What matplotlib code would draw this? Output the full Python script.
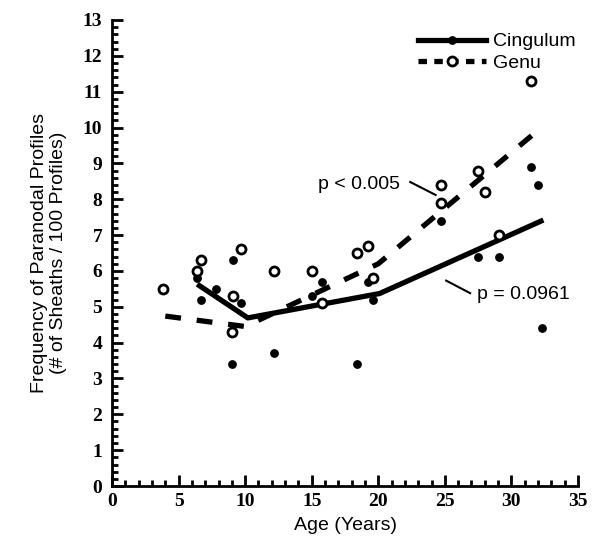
"""
Paranodal profile frequency vs age, cingulum vs genu, with piecewise fits.
"""

import matplotlib

matplotlib.use("Agg")
import matplotlib.pyplot as plt
from matplotlib.ticker import MultipleLocator

SANS = "Liberation Sans"
SERIF = "Liberation Serif"

# cingulum samples (filled dots)
cing_age = [6.4, 6.7, 7.8, 9.1, 9.7, 9.0, 12.2, 15.0, 15.8, 18.4, 19.2, 19.6,
            24.7, 27.5, 29.1, 31.5, 32.0, 32.3]
cing_freq = [5.8, 5.2, 5.5, 6.3, 5.1, 3.4, 3.7, 5.3, 5.7, 3.4, 5.7, 5.2,
             7.4, 6.4, 6.4, 8.9, 8.4, 4.4]

# genu samples (open circles)
genu_age = [3.8, 6.4, 6.7, 9.1, 9.7, 9.0, 12.2, 15.0, 15.8, 18.4, 19.2, 19.6,
            24.7, 24.7, 27.5, 28.0, 29.1, 31.5]
genu_freq = [5.5, 6.0, 6.3, 5.3, 6.6, 4.3, 6.0, 6.0, 5.1, 6.5, 6.7, 5.8,
             8.4, 7.9, 8.8, 8.2, 7.0, 11.3]

# piecewise fit lines
cing_fit_age = [6.4, 10.2, 20.1, 32.4]
cing_fit = [5.63, 4.69, 5.37, 7.42]
genu_fit_age = [4.0, 10.0, 20.0, 31.6]
genu_fit = [4.74, 4.45, 6.2, 9.8]


def main():
    fig = plt.figure(figsize=(6.01, 5.6), dpi=100)
    ax = fig.add_axes([0.1864, 0.1321, 0.7753, 0.8322])

    ax.plot(cing_fit_age, cing_fit, color="black", lw=3.8,
            solid_capstyle="butt", zorder=2)
    ax.plot(genu_fit_age, genu_fit, color="black", lw=3.8,
            dashes=(3, 3), dash_capstyle="butt", zorder=2)
    ax.plot(cing_age, cing_freq, "o", ms=5.3, color="black", zorder=3)
    ax.plot(genu_age, genu_freq, "o", ms=6.5, mfc="white", mec="black",
            mew=2.0, zorder=3)

    # legend handles
    ax.plot([], [], color="black", lw=3.8, marker="o", ms=5.3, label="Cingulum")
    ax.plot([], [], color="black", lw=3.8, dashes=(1.6, 1.4), marker="o",
            ms=6.5, mfc="white", mew=2.0, label="Genu")
    ax.legend(loc="upper left", bbox_to_anchor=(0.62, 1.01),
              frameon=False, handlelength=3.5, handletextpad=0.35,
              labelspacing=0.2, prop={"family": SANS, "size": 14})

    # p-value annotations
    ax.text(15.5, 8.4, "p < 0.005", family=SANS, fontsize=14, va="center")
    ax.plot([22.4, 24.3], [8.48, 8.12], color="black", lw=1.5)
    ax.text(27.4, 5.35, "p = 0.0961", family=SANS, fontsize=14,
            va="center")
    ax.plot([25.1, 26.9], [5.73, 5.38], color="black", lw=1.5)

    ax.set_xlim(0, 35)
    ax.set_ylim(0, 13)
    ax.xaxis.set_major_locator(MultipleLocator(5))
    ax.xaxis.set_minor_locator(MultipleLocator(1))
    ax.yaxis.set_major_locator(MultipleLocator(1))
    ax.yaxis.set_minor_locator(MultipleLocator(0.2))
    ax.tick_params(which="major", direction="in", length=8, width=2,
                   labelsize=14, pad=7)
    ax.tick_params(axis="x", which="major", pad=5)
    ax.tick_params(which="minor", direction="in", length=4, width=2)
    for lab in ax.get_xticklabels() + ax.get_yticklabels():
        lab.set_family(SERIF)
        lab.set_fontweight("bold")
    for side in ("top", "right"):
        ax.spines[side].set_visible(False)
    for side in ("left", "bottom"):
        ax.spines[side].set_linewidth(2)

    ax.set_xlabel("Age (Years)", family=SANS, fontsize=14, labelpad=5)
    ax.set_ylabel("Frequency of Paranodal Profiles\n(# of Sheaths / 100 Profiles)",
                  family=SANS, fontsize=14, labelpad=11)

    fig.savefig("out.png")


if __name__ == "__main__":
    main()
